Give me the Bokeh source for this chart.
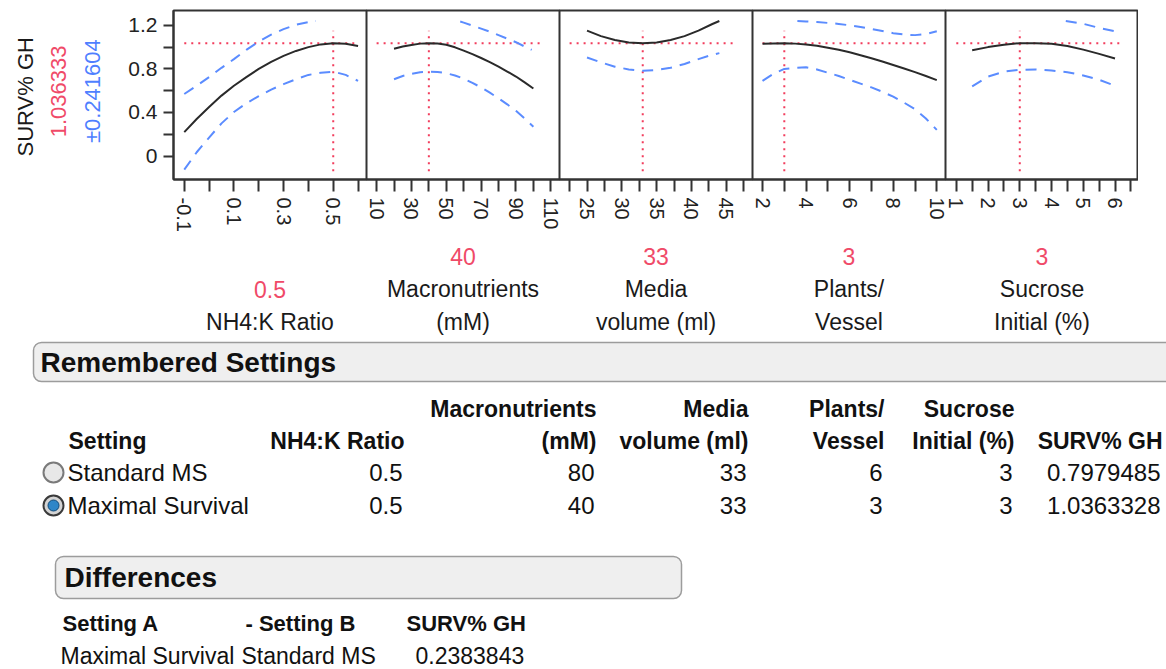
import math
from bokeh.plotting import figure
from bokeh.layouts import row, column
from bokeh.models import Range1d, FixedTicker
from bokeh.core.properties import value
from bokeh.embed import file_html
from bokeh.resources import INLINE

FONT = "Liberation Sans"
RED = "#f23c5c"
RED_TXT = "#f04a68"
BLUE = "#5b8cff"
BLUE_TXT = "#4f7fff"
DARK = "#333333"
TXT = "#1a1a1a"

# ---------------- data ----------------
response_name = "SURV% GH"
response_value = 1.036333
response_ci = 0.241604

factor_names = [["NH4:K Ratio"], ["Macronutrients", "(mM)"], ["Media", "volume (ml)"],
                ["Plants/", "Vessel"], ["Sucrose", "Initial (%)"]]
current_settings = [0.5, 40, 33, 3, 3]
current_labels = ["0.5", "40", "33", "3", "3"]

# NH4:K Ratio
nh4_x = [-0.1, -0.05, 0, 0.05, 0.1, 0.15, 0.2, 0.25, 0.3, 0.35, 0.4, 0.45, 0.5, 0.55, 0.6]
nh4_pred = [0.22, 0.34, 0.45, 0.555, 0.645, 0.725, 0.80, 0.865, 0.92, 0.965, 1.00, 1.025, 1.036, 1.03, 1.01]
nh4_lower = [-0.125, 0.035, 0.17, 0.30, 0.405, 0.485, 0.55, 0.61, 0.66, 0.705, 0.745, 0.765, 0.775, 0.745, 0.69]
nh4_upper_x = [-0.1, -0.05, 0, 0.05, 0.1, 0.15, 0.2, 0.25, 0.3, 0.35, 0.4, 0.43]
nh4_upper = [0.57, 0.645, 0.725, 0.81, 0.89, 0.975, 1.05, 1.115, 1.165, 1.205, 1.23, 1.24]

# Macronutrients (mM)
mac_x = [20, 25, 30, 35, 40, 45, 50, 55, 60, 65, 70, 75, 80, 85, 90, 95, 100]
mac_pred = [0.985, 1.005, 1.02, 1.032, 1.036, 1.033, 1.022, 0.998, 0.968, 0.935, 0.90, 0.862, 0.82, 0.776, 0.73, 0.676, 0.62]
mac_lower = [0.705, 0.735, 0.755, 0.77, 0.775, 0.772, 0.76, 0.74, 0.71, 0.672, 0.63, 0.582, 0.53, 0.475, 0.415, 0.345, 0.27]
mac_upper_x = [58, 60, 65, 70, 75, 80, 85, 90, 95, 99]
mac_upper = [1.235, 1.225, 1.198, 1.17, 1.142, 1.11, 1.078, 1.045, 1.005, 0.975]

# Media volume (ml)
med_x = [25, 27, 29, 31, 33, 35, 37, 39, 41, 43, 44]
med_pred = [1.151, 1.101, 1.065, 1.043, 1.036, 1.043, 1.065, 1.101, 1.151, 1.212, 1.24]
med_lower = [0.905, 0.86, 0.82, 0.795, 0.783, 0.79, 0.81, 0.845, 0.89, 0.93, 0.945]
med_upper_x = []
med_upper = []

# Plants/Vessel
pla_x = [2, 2.5, 3, 3.5, 4, 4.5, 5, 5.5, 6, 6.5, 7, 7.5, 8, 8.5, 9, 9.5, 10]
pla_pred = [1.03, 1.034, 1.036, 1.032, 1.025, 1.012, 0.995, 0.975, 0.952, 0.926, 0.898, 0.868, 0.836, 0.804, 0.77, 0.735, 0.697]
pla_lower = [0.69, 0.755, 0.80, 0.81, 0.815, 0.795, 0.765, 0.735, 0.70, 0.665, 0.63, 0.59, 0.545, 0.49, 0.43, 0.345, 0.24]
pla_upper_x = [3.6, 4, 4.5, 5, 5.5, 6, 6.5, 7, 7.5, 8, 8.5, 9, 9.5, 10]
pla_upper = [1.24, 1.235, 1.23, 1.222, 1.213, 1.2, 1.185, 1.166, 1.147, 1.128, 1.115, 1.11, 1.12, 1.145]

# Sucrose Initial (%)
suc_x = [1.5, 2, 2.5, 3, 3.5, 4, 4.5, 5, 5.5, 6]
suc_pred = [0.972, 1.0, 1.022, 1.036, 1.036, 1.03, 1.01, 0.977, 0.938, 0.895]
suc_lower = [0.64, 0.73, 0.775, 0.792, 0.795, 0.785, 0.77, 0.74, 0.70, 0.645]
suc_upper_x = [4.45, 5, 5.5, 6]
suc_upper = [1.24, 1.214, 1.176, 1.145]

# axes (ranges and ticks)
x_ranges = [(-0.1434, 0.634), (4.2, 115.0), (21.05, 48.76), (1.54, 10.4), (0.66, 6.74)]
x_major = [[-0.1, 0.1, 0.3, 0.5], [10, 30, 50, 70, 90, 110], [25, 30, 35, 40, 45],
           [2, 4, 6, 8, 10], [1, 2, 3, 4, 5, 6]]
x_major_labels = [["-0.1", "0.1", "0.3", "0.5"], ["10", "30", "50", "70", "90", "110"],
                  ["25", "30", "35", "40", "45"], ["2", "4", "6", "8", "10"],
                  ["1", "2", "3", "4", "5", "6"]]
x_minor = [[0, 0.2, 0.4, 0.6], [20, 40, 60, 80, 100], [22.5, 27.5, 32.5, 37.5, 42.5, 47.5],
           [3, 5, 7, 9], [1.5, 2.5, 3.5, 4.5, 5.5, 6.5]]
ref_hline = [(-0.1, 0.6), (10, 106), (22.5, 46.5), (2, 9.7), (1, 6.25)]
ref_vline = (-0.14, 1.15)
y_range = (-0.215, 1.336)
y_major = [0, 0.4, 0.8, 1.2]
y_major_labels = ["0", "0.4", "0.8", "1.2"]
y_minor = [0.2, 0.6, 1.0]

curves = [
    (nh4_x, nh4_pred, nh4_lower, nh4_upper_x, nh4_upper),
    (mac_x, mac_pred, mac_lower, mac_upper_x, mac_upper),
    (med_x, med_pred, med_lower, med_upper_x, med_upper),
    (pla_x, pla_pred, pla_lower, pla_upper_x, pla_upper),
    (suc_x, suc_pred, suc_lower, suc_upper_x, suc_upper),
]

# remembered settings table
settings = ["Standard MS", "Maximal Survival"]
selected = [False, True]
col_head1 = ["", "Macronutrients", "Media", "Plants/", "Sucrose", ""]
col_head2 = ["NH4:K Ratio", "(mM)", "volume (ml)", "Vessel", "Initial (%)", "SURV% GH"]
nh4_vals = ["0.5", "0.5"]
mac_vals = ["80", "40"]
med_vals = ["33", "33"]
pla_vals = ["6", "3"]
suc_vals = ["3", "3"]
surv_vals = [0.7979485, 1.0363328]

# differences
diff_a = ["Maximal Survival"]
diff_b = ["Standard MS"]
diff_vals = [0.2383843]

# ---------------- layout constants ----------------
TOP_H = 240
PANEL_W = 193
LEFT_TXT_W = 110
AXIS_W = 63
OVER = 14          # extra right border so rotated tick labels are not cut
FRAME_TOP = 10
FRAME_BOTTOM_BORDER = 61


def blank(p):
    p.xgrid.visible = False
    p.ygrid.visible = False
    p.outline_line_color = None
    p.background_fill_color = "white"
    p.border_fill_color = "white"


# left rotated labels
tf = figure(width=LEFT_TXT_W, height=TOP_H, x_range=Range1d(0, LEFT_TXT_W), y_range=Range1d(TOP_H, 0),
            output_backend="svg", toolbar_location=None, x_axis_location=None, y_axis_location=None,
            min_border_left=0, min_border_right=0, min_border_top=0, min_border_bottom=0)
blank(tf)
tf.text(x=[25, 58, 92], y=[122.5, 115, 114.5],
        text=[response_name, f"{response_value:.6f}", f"\u00b1{response_ci:.6f}"],
        text_color=[TXT, RED_TXT, BLUE_TXT], angle=math.pi / 2,
        text_align="center", text_baseline="middle",
        text_font=value(FONT), text_font_size="22px")

panels = [tf]
for i in range(5):
    first = i == 0
    last = i == 4
    xs, pred, lower, ux, upper = curves[i]
    extra = 0 if last else OVER
    p = figure(width=PANEL_W + (AXIS_W if first else 0) + extra, height=TOP_H,
               x_range=Range1d(*x_ranges[i]), y_range=Range1d(*y_range),
               output_backend="svg", toolbar_location=None,
               y_axis_location="left" if first else None,
               min_border_left=AXIS_W if first else 0, min_border_right=extra,
               min_border_top=FRAME_TOP, min_border_bottom=FRAME_BOTTOM_BORDER)
    if extra:
        p.styles = {"margin-right": f"-{extra}px"}
    p.xgrid.visible = False
    p.ygrid.visible = False
    p.outline_line_color = DARK
    p.outline_line_width = 2
    p.border_fill_alpha = 0
    p.background_fill_color = "white"

    ax = p.xaxis[0]
    ax.ticker = FixedTicker(ticks=x_major[i], minor_ticks=x_minor[i])
    ax.major_label_overrides = {t: lab for t, lab in zip(x_major[i], x_major_labels[i])}
    ax.major_label_orientation = "vertical"
    ax.major_tick_out = 12
    ax.major_tick_in = 0
    ax.minor_tick_out = 12
    ax.minor_tick_in = 0
    ax.major_tick_line_width = 2
    ax.minor_tick_line_width = 2
    ax.major_tick_line_color = DARK
    ax.minor_tick_line_color = DARK
    ax.axis_line_color = DARK
    ax.axis_line_width = 2
    ax.major_label_text_font = FONT
    ax.major_label_text_font_size = "20px"
    ax.major_label_text_color = "#222222"
    ax.major_label_standoff = 6

    if first:
        ay = p.yaxis[0]
        ay.ticker = FixedTicker(ticks=y_major, minor_ticks=y_minor)
        ay.major_label_overrides = {t: lab for t, lab in zip(y_major, y_major_labels)}
        ay.major_tick_out = 10
        ay.major_tick_in = 0
        ay.minor_tick_out = 10
        ay.minor_tick_in = 0
        ay.major_tick_line_width = 2
        ay.minor_tick_line_width = 2
        ay.major_tick_line_color = DARK
        ay.minor_tick_line_color = DARK
        ay.axis_line_color = DARK
        ay.axis_line_width = 2
        ay.major_label_text_font = FONT
        ay.major_label_text_font_size = "21px"
        ay.major_label_text_color = "#222222"
        ay.major_label_standoff = 6

    # reference lines
    hx0, hx1 = ref_hline[i]
    p.line([hx0, hx1], [response_value, response_value], line_color=RED, line_width=2, line_dash="2 5")
    p.line([current_settings[i], current_settings[i]], list(ref_vline), line_color=RED, line_width=2,
           line_dash="2 5")
    # confidence curves
    p.line(xs, lower, line_color=BLUE, line_width=2, line_dash="11 8")
    if ux:
        p.line(ux, upper, line_color=BLUE, line_width=2, line_dash="11 8")
    # prediction
    p.line(xs, pred, line_color="#2a2a2a", line_width=2)
    panels.append(p)

top = row(*panels)

# ---------------- bottom part ----------------
BOT_H = 669 - TOP_H
bf = figure(width=1166, height=BOT_H, x_range=Range1d(0, 1166), y_range=Range1d(669, TOP_H),
            output_backend="svg", toolbar_location=None, x_axis_location=None, y_axis_location=None,
            min_border_left=0, min_border_right=0, min_border_top=0, min_border_bottom=0)
blank(bf)

frame_left = LEFT_TXT_W + AXIS_W
centers = [frame_left + PANEL_W * (i + 0.5) for i in range(5)]
fx, fy, ft, fc = [], [], [], []
for i in range(5):
    lines = [current_labels[i]] + factor_names[i]
    n = len(lines)
    for k, ln in enumerate(lines):
        fx.append(centers[i])
        fy.append(321 - 32.5 * (n - 1 - k))
        ft.append(ln)
        fc.append(RED_TXT if k == 0 else TXT)
bf.text(x=fx, y=fy, text=ft, text_color=fc, text_align="center", text_baseline="middle",
        text_font=value(FONT), text_font_size="23px")

# Remembered Settings header box
bf.quad(left=[33], right=[1185], top=[342], bottom=[381], fill_color="#efefef",
        line_color="#9c9c9c", line_width=1.5, border_radius=8)
bf.text(x=[40], y=[362], text=["Remembered Settings"], text_font=value(FONT), text_font_size="28px",
        text_font_style="bold", text_color="#111111", text_align="left", text_baseline="middle")

col_right = [404, 596, 748, 884, 1014, 1162]
hx = [68] + [c for c, h in zip(col_right, col_head1) if h]
hy = [440] + [408 for h in col_head1 if h]
ht = ["Setting"] + [h for h in col_head1 if h]
ha = ["left"] + ["right" for h in col_head1 if h]
hx += col_right
hy += [440] * len(col_head2)
ht += col_head2
ha += ["right"] * len(col_head2)
bf.text(x=hx, y=hy, text=ht, text_align=ha, text_baseline="middle", text_font=value(FONT),
        text_font_size="23px", text_font_style="bold", text_color="#111111")

row_y = [472, 505]
cols = [nh4_vals, mac_vals, med_vals, pla_vals, suc_vals, [f"{v:.7f}" for v in surv_vals]]
tx, ty, tt, ta = [], [], [], []
for r in range(len(settings)):
    tx.append(67); ty.append(row_y[r]); tt.append(settings[r]); ta.append("left")
    for c in range(6):
        tx.append(col_right[c] - 2); ty.append(row_y[r]); tt.append(cols[c][r]); ta.append("right")
bf.text(x=tx, y=ty, text=tt, text_align=ta, text_baseline="middle", text_font=value(FONT),
        text_font_size="24px", text_color="#111111")

# radio buttons
bf.scatter(x=[53] * len(settings), y=row_y, size=20, marker="circle",
           fill_color=["#e8e8e8" if not s else "#d4d4d4" for s in selected],
           line_color=["#7a7a7a" if not s else "#3a3a3a" for s in selected], line_width=2)
sel_y = [y for y, s in zip(row_y, selected) if s]
bf.scatter(x=[53] * len(sel_y), y=sel_y, size=11, marker="circle", fill_color="#2f86c8",
           line_color="#124a78", line_width=1)

# Differences header box
bf.quad(left=[55], right=[681], top=[556], bottom=[598], fill_color="#efefef",
        line_color="#9c9c9c", line_width=1.5, border_radius=8)
bf.text(x=[64], y=[577], text=["Differences"], text_font=value(FONT), text_font_size="28px",
        text_font_style="bold", text_color="#111111", text_align="left", text_baseline="middle")
bf.text(x=[62, 245, 406], y=[623, 623, 623], text=["Setting A", "- Setting B", response_name],
        text_font=value(FONT), text_font_size="22px", text_font_style="bold", text_color="#111111",
        text_align="left", text_baseline="middle")
dx, dy, dt = [], [], []
for k in range(len(diff_a)):
    dx += [60, 241, 415]
    dy += [655 + 33 * k] * 3
    dt += [diff_a[k], diff_b[k], f"{diff_vals[k]:.7f}"]
bf.text(x=dx, y=dy, text=dt, text_font=value(FONT), text_font_size="23px", text_color="#111111",
        text_align="left", text_baseline="middle")

layout = column(top, bf)
open("out.html", "w").write(file_html(layout, INLINE))
